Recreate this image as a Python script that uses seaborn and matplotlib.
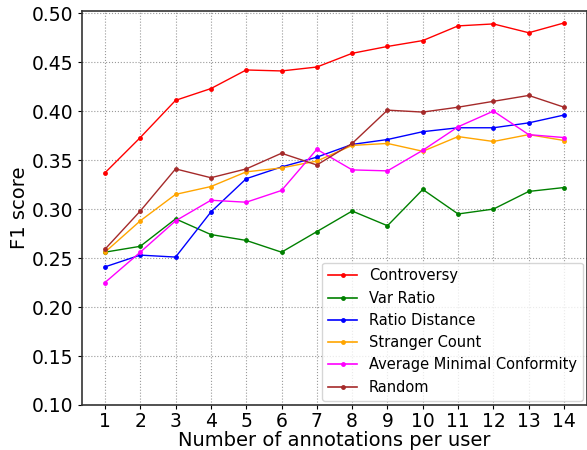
import numpy as np
import pandas as pd
import matplotlib
matplotlib.use("Agg")
import matplotlib.pyplot as plt
import seaborn as sns

annotations = list(range(1, 15))
controversy = [0.337, 0.373, 0.411, 0.423, 0.442, 0.441, 0.445, 0.459, 0.466, 0.472, 0.487, 0.489, 0.480, 0.490]
var_ratio = [0.256, 0.262, 0.290, 0.274, 0.268, 0.256, 0.277, 0.298, 0.283, 0.320, 0.295, 0.300, 0.318, 0.322]
ratio_distance = [0.241, 0.253, 0.251, 0.297, 0.331, 0.343, 0.353, 0.366, 0.371, 0.379, 0.383, 0.383, 0.388, 0.396]
stranger_count = [0.256, 0.288, 0.315, 0.323, 0.338, 0.342, 0.349, 0.365, 0.367, 0.359, 0.374, 0.369, 0.376, 0.370]
avg_min_conf = [0.225, 0.256, 0.288, 0.309, 0.307, 0.319, 0.361, 0.340, 0.339, 0.360, 0.384, 0.400, 0.376, 0.373]
random_sel = [0.259, 0.298, 0.341, 0.332, 0.341, 0.357, 0.345, 0.367, 0.401, 0.399, 0.404, 0.410, 0.416, 0.404]

series_names = ["Controversy", "Var Ratio", "Ratio Distance", "Stranger Count",
                "Average Minimal Conformity", "Random"]
series_values = [controversy, var_ratio, ratio_distance, stranger_count, avg_min_conf, random_sel]
colors = ["red", "green", "blue", "orange", "magenta", "brown"]

df = pd.DataFrame({
    "n": np.tile(annotations, len(series_names)),
    "f1": np.concatenate(series_values),
    "method": np.repeat(series_names, len(annotations)),
})

fig = plt.figure(figsize=(5.87, 4.5), dpi=100)
ax = fig.add_axes([82 / 587, 45 / 450, (587 - 82) / 587, (405 - 10.7) / 450])

sns.lineplot(data=df, x="n", y="f1", hue="method", hue_order=series_names,
             palette=dict(zip(series_names, colors)), marker="o", markersize=3.5,
             markeredgewidth=0, linewidth=1, ax=ax)

ax.set_xlim(0.35, 14.65)
ax.set_ylim(0.10, 0.5025)
ax.set_xticks(annotations)
ax.set_yticks(np.arange(0.10, 0.501, 0.05))
ax.set_yticklabels([f"{v:.2f}" for v in np.arange(0.10, 0.501, 0.05)])
ax.tick_params(axis="both", labelsize=13.5, length=3, width=0.8, colors="black")
ax.tick_params(axis="x", pad=2)
ax.grid(True, linestyle=":", color="gray", linewidth=0.8, alpha=0.8)
ax.set_axisbelow(True)
for s in ax.spines.values():
    s.set_color("#333333")
    s.set_linewidth(1.2)
ax.set_xlabel("Number of annotations per user", fontsize=14, labelpad=0)
ax.set_ylabel("F1 score", fontsize=14, labelpad=2)
leg = ax.legend(loc="lower right", fontsize=10.5, frameon=True, borderaxespad=0.3)
for line in leg.get_lines():
    line.set_linewidth(1.2)

fig.savefig("out.png", dpi=100)
